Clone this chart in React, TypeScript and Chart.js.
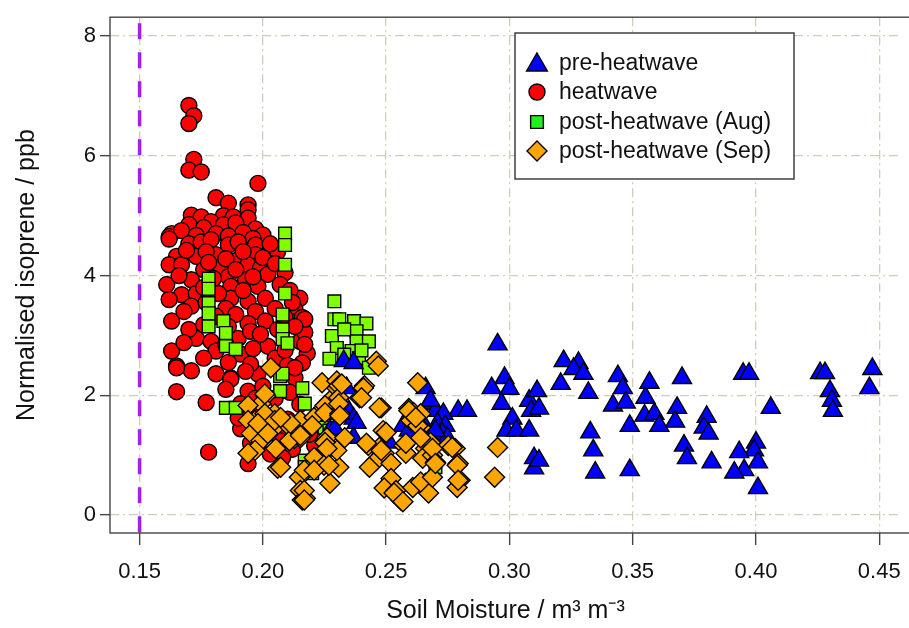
import React, { useEffect, useRef } from 'react';
import { Chart, registerables } from 'chart.js';

Chart.register(...registerables);

// ---------- axes ----------
const xTicks = [0.15, 0.2, 0.25, 0.3, 0.35, 0.4, 0.45];
const yTicks = [0, 2, 4, 6, 8];
const xMin = 0.138;
const xMax = 0.4588;
const yMin = -0.3;
const yMax = 8.315;
const thresholdX = 0.15;

const xTitle = 'Soil Moisture / m\u00B3 m\u207B\u00B3';
const yTitle = 'Normalised isoprene / ppb';

const seriesNames = ['pre-heatwave', 'heatwave', 'post-heatwave (Aug)', 'post-heatwave (Sep)'];

// ---------- data: [soil moisture, isoprene] ----------
const preHeatwave: [number, number][] = [
  [0.3568, 2.21], [0.3552, 1.96], [0.3548, 1.66], [0.3588, 1.69], [0.3608, 1.49], [0.370, 2.29], [0.368, 1.79],
  [0.3672, 1.56], [0.3708, 1.16], [0.372, 0.95], [0.380, 1.64], [0.3788, 1.46], [0.3808, 1.36], [0.382, 0.88],
  [0.3948, 2.36], [0.3972, 2.36], [0.406, 1.79], [0.400, 1.21], [0.3992, 1.08], [0.3932, 1.05], [0.4008, 0.88],
  [0.3952, 0.75], [0.3912, 0.71], [0.4008, 0.45], [0.426, 2.37], [0.428, 2.37], [0.430, 2.07], [0.4308, 1.91],
  [0.4312, 1.74], [0.4472, 2.44], [0.446, 2.12],
  [0.2952, 2.85], [0.298, 2.29], [0.2928, 2.12], [0.300, 2.11], [0.2968, 1.86], [0.3012, 1.61], [0.2988, 1.41],
  [0.3028, 1.41], [0.308, 1.91], [0.3112, 2.07], [0.3088, 1.74], [0.312, 1.78], [0.308, 1.41], [0.310, 0.95],
  [0.310, 0.78], [0.312, 0.91],
  [0.322, 2.57], [0.328, 2.54], [0.326, 2.44], [0.330, 2.36], [0.3208, 2.19], [0.332, 2.04], [0.3328, 1.38],
  [0.334, 1.08], [0.3348, 0.71], [0.344, 2.32], [0.346, 2.12], [0.342, 1.83], [0.3472, 1.88], [0.3488, 1.49],
  [0.3488, 0.75],
  [0.2792, 1.74], [0.2828, 1.74], [0.266, 2.12], [0.2672, 1.86], [0.270, 1.74], [0.2732, 1.69], [0.2708, 1.53],
  [0.266, 1.46], [0.274, 1.49], [0.2728, 1.36],
  [0.2328, 2.57], [0.2368, 2.54], [0.234, 2.12], [0.2348, 1.74], [0.2368, 1.61], [0.238, 1.54], [0.2272, 1.41],
  [0.2292, 1.44], [0.2368, 1.29], [0.2312, 1.69],
  [0.268, 1.91], [0.2568, 1.49], [0.262, 1.53], [0.2512, 1.21], [0.2472, 1.03], [0.2592, 1.41], [0.2748, 1.29],
  [0.270, 1.41],
];

const heatwave: [number, number][] = [
  [0.170, 6.84], [0.172, 6.67], [0.170, 6.54], [0.172, 5.94], [0.170, 5.76], [0.175, 5.73], [0.198, 5.54],
  [0.181, 5.30], [0.186, 5.21], [0.194, 5.18], [0.194, 5.10], [0.171, 5.01], [0.175, 4.98], [0.184, 5.00],
  [0.188, 4.98], [0.194, 4.96], [0.170, 4.85], [0.179, 4.90], [0.184, 4.85], [0.197, 4.78], [0.163, 4.70],
  [0.162, 4.65], [0.167, 4.75], [0.176, 4.80], [0.189, 4.88], [0.192, 4.72], [0.181, 4.70], [0.186, 4.66],
  [0.200, 4.68], [0.173, 4.67], [0.196, 4.62],
  [0.162, 4.61], [0.170, 4.53], [0.175, 4.56], [0.179, 4.60], [0.186, 4.51], [0.190, 4.56], [0.197, 4.51],
  [0.203, 4.51], [0.165, 4.32], [0.173, 4.32], [0.181, 4.35], [0.190, 4.27], [0.197, 4.35], [0.162, 4.18],
  [0.167, 4.18], [0.183, 4.15], [0.194, 4.18], [0.199, 4.12], [0.171, 3.93], [0.186, 3.98], [0.193, 3.93],
  [0.202, 4.02], [0.161, 3.85], [0.167, 3.68], [0.173, 3.70], [0.187, 3.82], [0.198, 3.82], [0.201, 3.62],
  [0.162, 3.60], [0.187, 3.62], [0.194, 3.57], [0.215, 3.62], [0.171, 3.49], [0.185, 3.45], [0.197, 3.40],
  [0.213, 3.44], [0.163, 3.24], [0.194, 3.20], [0.201, 3.24], [0.214, 3.24], [0.173, 2.95], [0.179, 2.90],
  [0.190, 2.95], [0.195, 3.07], [0.202, 2.82], [0.215, 2.90], [0.163, 2.74], [0.181, 2.74], [0.191, 2.69],
  [0.205, 2.62], [0.165, 2.49], [0.171, 2.41], [0.181, 2.36], [0.187, 2.29], [0.198, 2.36], [0.213, 2.29],
  [0.177, 4.40], [0.169, 4.42], [0.185, 4.28], [0.192, 4.40], [0.200, 4.30], [0.206, 4.40], [0.176, 4.10],
  [0.178, 4.22], [0.189, 4.10], [0.205, 4.20], [0.209, 4.05], [0.166, 4.00], [0.180, 3.95], [0.196, 3.98],
  [0.207, 3.85], [0.211, 3.75], [0.176, 3.80], [0.182, 3.70], [0.192, 3.75], [0.168, 3.40], [0.177, 3.55],
  [0.181, 3.32], [0.189, 3.35], [0.205, 3.45], [0.209, 3.30], [0.170, 3.10], [0.176, 3.18], [0.186, 3.15],
  [0.199, 3.02], [0.206, 3.10], [0.168, 2.88], [0.185, 2.85], [0.196, 2.78], [0.209, 2.75], [0.176, 2.62],
  [0.186, 2.55], [0.195, 2.52], [0.210, 2.50], [0.218, 2.70], [0.217, 3.05], [0.212, 3.55], [0.216, 3.30],
  [0.203, 4.53], [0.217, 3.27], [0.217, 2.85], [0.216, 2.54], [0.213, 3.15],
  [0.165, 2.46], [0.187, 2.27], [0.165, 2.06], [0.177, 1.88], [0.194, 2.07], [0.191, 1.86], [0.191, 1.44],
  [0.178, 1.05], [0.194, 0.86], [0.207, 1.29], [0.213, 2.46], [0.200, 2.15], [0.205, 1.95], [0.199, 1.70],
  [0.202, 1.50], [0.210, 1.60], [0.185, 2.10], [0.195, 1.20], [0.212, 1.10], [0.215, 1.85], [0.221, 1.16],
  [0.207, 1.24], [0.208, 0.96], [0.190, 1.62], [0.197, 1.95], [0.203, 1.02], [0.211, 2.05], [0.193, 2.40],
  [0.219, 1.35],
];

const postAug: [number, number][] = [
  [0.209, 4.70], [0.209, 4.51], [0.209, 4.18], [0.209, 3.70], [0.208, 3.35], [0.208, 3.10], [0.208, 2.94],
  [0.210, 2.87], [0.178, 3.95], [0.178, 3.78], [0.178, 3.54], [0.178, 3.37], [0.178, 3.15], [0.184, 3.24],
  [0.185, 3.04], [0.185, 2.82], [0.189, 2.77], [0.185, 1.79], [0.189, 1.79], [0.207, 2.32], [0.207, 2.07],
  [0.216, 2.12], [0.217, 1.86], [0.217, 0.91], [0.217, 0.80],
  [0.229, 3.57], [0.229, 3.27], [0.231, 3.27], [0.237, 3.24], [0.242, 3.20], [0.228, 2.99], [0.238, 3.07],
  [0.238, 2.90], [0.243, 2.90], [0.230, 2.79], [0.236, 2.74], [0.227, 2.61], [0.239, 2.62], [0.243, 2.46],
  [0.233, 3.10], [0.240, 2.75], [0.233, 2.68],
  [0.225, 1.46], [0.223, 0.96], [0.220, 0.70], [0.269, 1.29], [0.270, 0.80], [0.227, 1.41], [0.208, 2.36],
];

const postSep: [number, number][] = [
  [0.2032, 2.46], [0.2012, 1.99], [0.1992, 1.86], [0.194, 1.83], [0.1968, 1.58], [0.194, 1.58], [0.2008, 1.53],
  [0.2048, 1.69], [0.2048, 1.46], [0.2112, 1.46], [0.1952, 1.36], [0.1992, 1.24], [0.1968, 1.08], [0.2052, 1.11],
  [0.2128, 1.28], [0.2152, 1.29], [0.206, 0.78], [0.194, 1.03], [0.2148, 0.63], [0.2152, 0.41], [0.216, 0.25],
  [0.2008, 2.02], [0.2008, 1.69], [0.198, 1.53], [0.2048, 1.58], [0.202, 1.36], [0.2108, 1.24], [0.2152, 1.58],
  [0.2192, 1.46], [0.2208, 1.63], [0.2248, 1.79], [0.2272, 1.91], [0.230, 2.12], [0.226, 1.29], [0.2272, 1.13],
  [0.2208, 0.96], [0.2168, 0.75], [0.2172, 0.28], [0.2272, 0.53], [0.2248, 0.83], [0.2308, 0.80], [0.230, 1.08],
  [0.2332, 1.29], [0.246, 2.57], [0.2468, 2.49], [0.224, 2.21], [0.230, 2.24], [0.2308, 2.16], [0.2412, 2.16],
  [0.2392, 1.96], [0.248, 1.79], [0.2252, 1.83], [0.2252, 1.71], [0.2308, 1.96], [0.2312, 1.69], [0.2112, 1.53],
  [0.2152, 1.33], [0.220, 1.49], [0.2252, 1.21], [0.226, 1.11], [0.2428, 1.16], [0.2488, 1.41], [0.2472, 1.13],
  [0.246, 0.91], [0.2492, 1.03], [0.252, 0.86], [0.252, 0.61], [0.2492, 0.45], [0.254, 0.41], [0.256, 0.25],
  [0.2432, 0.80], [0.2208, 0.75], [0.2268, 0.83], [0.2168, 0.41], [0.2168, 0.25], [0.2628, 2.21], [0.2592, 1.78],
  [0.2612, 1.71], [0.264, 1.46], [0.260, 1.58], [0.2572, 1.16], [0.2648, 1.28], [0.266, 1.11], [0.258, 1.03],
  [0.2648, 0.95], [0.2688, 1.00], [0.266, 0.53], [0.2608, 0.46], [0.2672, 0.37], [0.2072, 0.80], [0.2072, 1.63],
  [0.264, 1.69], [0.2628, 1.49], [0.268, 1.21], [0.270, 0.88], [0.264, 0.55], [0.2688, 0.63], [0.2752, 1.16],
  [0.278, 1.11], [0.2792, 0.86], [0.280, 0.58], [0.2788, 0.46], [0.2952, 1.13], [0.294, 0.63],
  [0.2408, 2.12], [0.240, 1.96], [0.2472, 1.79], [0.232, 2.19], [0.2308, 1.86], [0.2312, 1.66], [0.242, 1.20],
  [0.250, 1.38], [0.248, 1.08], [0.258, 1.20], [0.2592, 1.74], [0.262, 1.63], [0.264, 1.29], [0.2688, 1.11],
  [0.2768, 1.13], [0.2788, 0.83], [0.2792, 0.58], [0.270, 0.86], [0.2532, 0.37], [0.2568, 0.22],
];

// ---------- styles ----------
const FONT = '"Liberation Sans", Arial, Helvetica, sans-serif';
const markers = [
  { style: 'triangle', radius: 11, fill: '#0000FF', legendFill: '#0000FF' },
  { style: 'circle', radius: 8, fill: '#FF0000', legendFill: '#FF0000' },
  { style: 'rect', radius: 9, fill: '#7FFF00', legendFill: '#22EE22' },
  { style: 'rectRot', radius: 10, fill: '#FFA500', legendFill: '#FFA500' },
];
const seriesData = [preHeatwave, heatwave, postAug, postSep];
const drawOrder = [1, 3, 2, 0]; // lower = drawn on top

function drawMarker(ctx: CanvasRenderingContext2D, style: string, x: number, y: number, r: number) {
  ctx.beginPath();
  if (style === 'circle') {
    ctx.arc(x, y, r, 0, Math.PI * 2);
  } else if (style === 'triangle') {
    for (let i = 0; i < 3; i++) {
      const a = (i * 2 * Math.PI) / 3;
      const px = x + Math.sin(a) * r;
      const py = y - Math.cos(a) * r;
      if (i === 0) ctx.moveTo(px, py); else ctx.lineTo(px, py);
    }
  } else if (style === 'rect') {
    const s = r * Math.SQRT1_2;
    ctx.rect(x - s, y - s, 2 * s, 2 * s);
  } else {
    ctx.moveTo(x, y - r);
    ctx.lineTo(x + r, y);
    ctx.lineTo(x, y + r);
    ctx.lineTo(x - r, y);
  }
  ctx.closePath();
  ctx.fill();
  ctx.stroke();
}

const framePlugin = {
  id: 'frame',
  beforeDatasetsDraw(chart: any) {
    const { ctx, chartArea, scales } = chart;
    ctx.save();
    const px = scales.x.getPixelForValue(thresholdX);
    ctx.strokeStyle = '#A020F0';
    ctx.lineWidth = 3.5;
    ctx.setLineDash([16, 13]);
    ctx.beginPath();
    ctx.moveTo(px, chartArea.top + 6);
    ctx.lineTo(px, chartArea.bottom);
    ctx.stroke();
    ctx.setLineDash([]);
    ctx.strokeStyle = '#444';
    ctx.lineWidth = 1.4;
    ctx.strokeRect(chartArea.left, chartArea.top, chartArea.right - chartArea.left + 10, chartArea.bottom - chartArea.top);
    ctx.restore();
  },
};

const legendPlugin = {
  id: 'customLegend',
  afterDraw(chart: any) {
    const { ctx } = chart;
    ctx.save();
    ctx.fillStyle = '#fff';
    ctx.fillRect(515, 33, 279, 146);
    ctx.strokeStyle = '#333';
    ctx.lineWidth = 1.4;
    ctx.strokeRect(515, 33, 279, 146);
    const rows = [63, 92, 122, 151];
    seriesNames.forEach((name, i) => {
      const m = markers[i];
      ctx.fillStyle = m.legendFill;
      ctx.strokeStyle = '#000';
      ctx.lineWidth = 1.4;
      const r = m.style === 'triangle' ? 12 : m.style === 'circle' ? 8 : m.style === 'rect' ? 9 : 10;
      drawMarker(ctx, m.style, 537, rows[i] + (m.style === 'triangle' ? 2 : 0), r);
      ctx.fillStyle = '#111';
      ctx.font = `23px ${FONT}`;
      ctx.textAlign = 'left';
      ctx.textBaseline = 'middle';
      ctx.fillText(name, 559, rows[i] + 1);
    });
    ctx.restore();
  },
};

export default function App() {
  const ref = useRef<HTMLCanvasElement>(null);

  useEffect(() => {
    if (!ref.current) return;
    const datasets = seriesNames.map((name, i) => ({
      label: name,
      data: seriesData[i].map(([x, y]) => ({ x, y })),
      pointStyle: markers[i].style as any,
      pointRadius: markers[i].radius,
      backgroundColor: markers[i].fill,
      borderColor: '#000',
      pointBorderWidth: 1.4,
      showLine: false,
      order: drawOrder[i],
    }));

    const chart = new Chart(ref.current, {
      type: 'scatter',
      data: { datasets },
      options: {
        animation: false,
        responsive: false,
        devicePixelRatio: 1,
        events: [],
        layout: { padding: { top: 14, right: 3, left: 0, bottom: 0 } },
        plugins: {
          legend: { display: false },
          tooltip: { enabled: false },
        },
        scales: {
          x: {
            type: 'linear',
            min: xMin,
            max: xMax,
            afterBuildTicks: (scale: any) => {
              scale.ticks = xTicks.map((v) => ({ value: v }));
            },
            afterFit: (scale: any) => {
              scale.height = 95;
            },
            grid: {
              color: '#D3CCB8',
              lineWidth: 1.3,
              tickColor: '#444',
              tickLength: 12,
              tickWidth: 1.4,
              tickBorderDash: [],
            },
            border: { display: false, dash: [9, 4, 2, 4] },
            ticks: {
              color: '#111',
              font: { family: FONT, size: 22 },
              padding: 14,
              maxRotation: 0,
              autoSkip: false,
              callback: (v: any) => Number(v).toFixed(2),
            },
            title: {
              display: true,
              text: xTitle,
              color: '#111',
              font: { family: FONT, size: 25 },
              padding: { bottom: 2, top: 0 },
            },
          },
          y: {
            type: 'linear',
            min: yMin,
            max: yMax,
            afterBuildTicks: (scale: any) => {
              scale.ticks = yTicks.map((v) => ({ value: v }));
            },
            afterFit: (scale: any) => {
              scale.width = 110;
            },
            grid: {
              color: '#D3CCB8',
              lineWidth: 1.3,
              tickColor: '#444',
              tickLength: 10,
              tickWidth: 1.4,
              tickBorderDash: [],
            },
            border: { display: false, dash: [9, 4, 2, 4] },
            ticks: {
              color: '#111',
              font: { family: FONT, size: 22 },
              padding: 4,
              autoSkip: false,
              callback: (v: any) => String(v),
            },
            title: {
              display: true,
              text: yTitle,
              color: '#111',
              font: { family: FONT, size: 25 },
              padding: { top: 12, bottom: 0 },
            },
          },
        },
      },
      plugins: [framePlugin, legendPlugin],
    });
    return () => chart.destroy();
  }, []);

  return (
    <div
      style={{
        position: 'fixed',
        left: 0,
        top: 0,
        width: 909,
        height: 628,
        overflow: 'hidden',
        background: '#fff',
      }}
    >
      <canvas ref={ref} width={915} height={628} style={{ display: 'block', width: 915, height: 628 }} />
    </div>
  );
}
